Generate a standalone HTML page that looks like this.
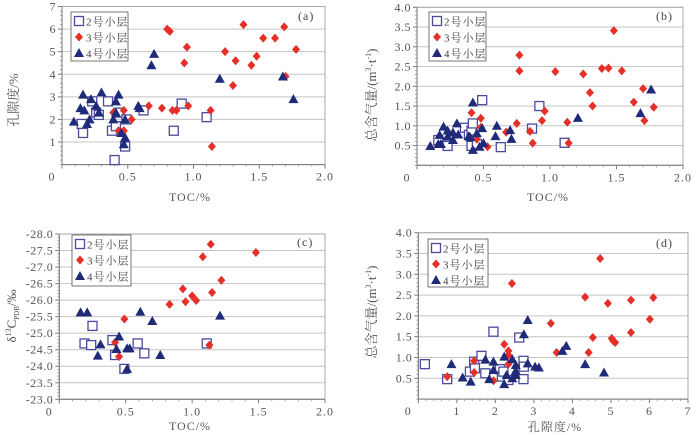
<!DOCTYPE html>
<html><head><meta charset="utf-8">
<style>
html,body{margin:0;padding:0;background:#fff;}
svg{display:block;font-family:"Liberation Serif","Noto Serif CJK SC",serif;}
</style></head>
<body>
<svg id="chart" width="700" height="435" viewBox="0 0 700 435" xmlns="http://www.w3.org/2000/svg"></svg>
<script>
// ---- Panel (a): TOC vs porosity ----
const aSq_x=[0.15,0.16,0.23,0.26,0.28,0.35,0.38,0.40,0.41,0.43,0.49,0.48,0.62,0.85,0.91,1.10];
const aSq_y=[1.8,1.4,2.8,2.3,2.2,2.8,1.5,0.2,1.7,2.3,2.0,0.8,2.4,1.5,2.7,2.1];
const aDi_x=[0.80,0.82,0.95,0.93,0.66,0.76,0.84,0.87,0.96,0.47,0.53,0.43,0.47,0.39,1.13,1.14,1.24,1.32,1.30,1.38,1.44,1.48,1.53,1.62,1.69,1.70,1.78];
const aDi_y=[6.0,5.9,5.2,4.5,2.6,2.5,2.4,2.4,2.6,2.4,2.0,1.5,1.5,2.3,2.4,0.8,5.0,4.6,3.5,6.2,4.4,4.8,5.6,5.6,6.1,3.9,5.1];
const aTr_x=[0.09,0.16,0.14,0.17,0.19,0.21,0.22,0.26,0.28,0.30,0.39,0.41,0.41,0.43,0.45,0.47,0.48,0.48,0.58,0.59,0.68,0.70,1.20,1.68,1.76];
const aTr_y=[1.9,3.1,2.5,2.4,1.8,2.0,2.9,2.6,2.3,3.2,2.0,2.8,2.3,3.1,1.4,0.9,1.2,2.0,2.6,2.5,4.4,4.9,3.8,3.9,2.9];
const aXTicks=[0,0.5,1.0,1.5,2.0];
const aXLabels=["0","0.5","1.0","1.5","2.0"];
const aYTicks=[1,2,3,4,5,6,7];
const aYLabels=["1","2","3","4","5","6","7"];
// ---- Panel (b): TOC vs gas content ----
const bSq_x=[0.16,0.23,0.36,0.39,0.41,0.41,0.42,0.45,0.49,0.63,0.865,0.92,1.11];
const bSq_y=[0.64,0.49,0.95,0.77,0.49,0.88,1.06,0.54,1.65,0.46,0.93,1.50,0.57];
const bDi_x=[0.41,0.48,0.48,0.45,0.53,0.67,0.75,0.77,0.77,0.85,0.87,0.94,0.96,1.04,1.13,1.14,1.25,1.30,1.32,1.39,1.44,1.48,1.54,1.63,1.70,1.71,1.78];
const bDi_y=[1.33,1.19,0.96,0.66,0.47,0.84,1.06,2.79,2.39,0.86,0.56,1.13,1.37,2.37,1.09,0.56,2.31,1.84,1.50,2.45,2.46,3.41,2.39,1.60,1.94,1.13,1.47];
const bTr_x=[0.10,0.16,0.18,0.17,0.20,0.23,0.23,0.27,0.27,0.30,0.31,0.39,0.40,0.42,0.42,0.45,0.47,0.49,0.50,0.59,0.60,0.70,0.71,1.21,1.68,1.76];
const bTr_y=[0.49,0.54,0.54,0.77,0.98,0.88,0.73,0.83,0.64,1.06,0.78,0.74,0.71,1.59,0.39,0.81,0.47,0.94,0.56,0.74,1.00,0.89,0.67,1.20,1.32,1.92];
const bXTicks=[0,0.5,1.0,1.5,2.0];
const bXLabels=["0","0.5","1.0","1.5","2.0"];
const bYTicks=[0.5,1.0,1.5,2.0,2.5,3.0,3.5,4.0];
const bYLabels=["0.5","1.0","1.5","2.0","2.5","3.0","3.5","4.0"];
// ---- Panel (c): TOC vs delta13C ----
const cSq_x=[0.19,0.24,0.25,0.40,0.42,0.49,0.59,0.64,1.11];
const cSq_y=[-24.69,-24.64,-25.22,-24.79,-24.34,-23.92,-24.69,-24.39,-24.69];
const cDi_x=[0.42,0.45,0.49,0.83,0.93,0.95,1.00,1.03,1.08,1.14,1.15,1.13,1.22,1.48];
const cDi_y=[-24.72,-24.29,-25.43,-25.87,-26.34,-25.95,-26.13,-25.99,-27.31,-27.69,-26.23,-24.64,-26.60,-27.44];
const cTr_x=[0.16,0.21,0.29,0.31,0.43,0.45,0.51,0.53,0.51,0.61,0.70,0.76,1.21];
const cTr_y=[-25.63,-25.63,-24.32,-24.66,-24.52,-24.90,-24.54,-24.54,-23.92,-25.65,-25.37,-24.34,-25.53];
const cXTicks=[0,0.5,1.0,1.5,2.0];
const cXLabels=["0","0.5","1.0","1.5","2.0"];
const cYTicks=[-28,-27.5,-27,-26.5,-26,-25.5,-25,-24.5,-24,-23.5,-23];
const cYLabels=["-28.0","-27.5","-27.0","-26.5","-26.0","-25.5","-25.0","-24.5","-24.0","-23.5","-23.0"];
// ---- Panel (d): porosity vs gas content ----
const dSq_x=[0.17,0.75,1.34,1.45,1.47,1.64,1.74,1.95,2.12,2.17,2.21,2.34,2.62,2.73,2.74,2.73];
const dSq_y=[0.84,0.48,0.66,0.90,0.74,1.04,0.62,1.62,0.72,0.54,0.66,0.46,1.48,0.92,0.78,0.48];
const dDi_x=[0.75,1.45,1.45,1.95,2.23,2.34,2.34,2.34,2.43,3.44,3.59,4.33,4.42,4.53,4.72,4.92,5.02,5.06,5.11,5.52,5.52,6.01,6.10];
const dDi_y=[0.54,0.92,0.64,0.44,1.32,1.16,1.06,0.84,2.78,1.82,1.12,2.45,1.12,1.48,3.38,2.30,1.46,1.40,1.36,2.38,1.60,1.92,2.44];
const dTr_x=[0.86,1.15,1.36,1.74,1.84,1.95,1.95,2.23,2.23,2.29,2.44,2.44,2.53,2.53,2.53,2.74,2.84,2.84,3.03,3.13,3.74,3.84,4.33,4.82];
const dTr_y=[0.84,0.52,0.42,0.95,0.48,0.90,0.70,0.36,1.02,0.58,0.96,0.50,0.82,0.68,0.58,1.56,1.90,0.86,0.78,0.76,1.16,1.28,0.84,0.64];
const dXTicks=[0,1,2,3,4,5,6,7];
const dXLabels=["0","1","2","3","4","5","6","7"];
const dYTicks=[0.5,1.0,1.5,2.0,2.5,3.0,3.5,4.0];
const dYLabels=["0.5","1.0","1.5","2.0","2.5","3.0","3.5","4.0"];
const legendNames=["2号小层","3号小层","4号小层"];

const NS="http://www.w3.org/2000/svg";
const svg=document.getElementById('chart');
function mk(tag,attrs,parent){const e=document.createElementNS(NS,tag);for(const k in attrs)e.setAttribute(k,attrs[k]);(parent||svg).appendChild(e);return e;}
const SQ="#4b4b9e",DI="#e52f28",TR="#1f2a78",GRID="#c4c4c4",TXT="#555";

function marker(g,type,cx,cy,name){
  let e;
  if(type==='sq'){e=mk('rect',{x:cx-4.5,y:cy-4.5,width:9,height:9,fill:'#fff',stroke:SQ,'stroke-width':1.3},g);}
  else if(type==='di'){e=mk('polygon',{points:`${cx},${cy-4.5} ${cx+4},${cy} ${cx},${cy+4.5} ${cx-4},${cy}`,fill:DI},g);}
  else {e=mk('polygon',{points:`${cx},${cy-5} ${cx+5},${cy+4} ${cx-5},${cy+4}`,fill:TR},g);}
  
  
  return e;
}

function panel(p){
  const g=mk('g',{});
  
  
  const sx=v=>p.x0+(v-p.xmin)/(p.xmax-p.xmin)*(p.x1-p.x0);
  const sy=v=>p.y0+(v-p.ymin)/(p.ymax-p.ymin)*(p.y1-p.y0);
  const L=p.x0,R=p.x1,T=Math.min(p.y0,p.y1),B=Math.max(p.y0,p.y1);
  p.yt.forEach((t,i)=>{const y=sy(t);
    const gl=mk('line',{x1:L,x2:R,y1:y,y2:y,stroke:GRID,'stroke-width':1},g);
    
    
    const tl=mk('text',{x:L-6,y:y+4,'text-anchor':'end','font-size':12,'letter-spacing':0.5,fill:TXT},g);tl.textContent=p.yl[i];
    
    
    mk('line',{x1:L-4,x2:L,y1:y,y2:y,stroke:'#777'},g);
  });
  const ystep=(p.yt[1]-p.yt[0])/5;
  for(let v=Math.min(p.ymin,p.ymax);v<=Math.max(p.ymin,p.ymax)+1e-9;v+=Math.abs(ystep)){const y=sy(v);mk('line',{x1:L-2,x2:L,y1:y,y2:y,stroke:'#888','stroke-width':0.7},g);}
  p.xt.forEach((t,i)=>{const x=sx(t);
    const tl=mk('text',{x:i===0?x-10:x,y:B+16,'text-anchor':'middle','font-size':12,'letter-spacing':1,fill:TXT},g);tl.textContent=p.xl[i];
    
    
    mk('line',{x1:x,x2:x,y1:B,y2:B+4,stroke:'#777'},g);
  });
  const xstep=(p.xt[1]-p.xt[0])/5;
  for(let v=p.xmin;v<=p.xmax+1e-9;v+=xstep){const x=sx(v);mk('line',{x1:x,x2:x,y1:B,y2:B+2,stroke:'#888','stroke-width':0.7},g);}
  const fr=mk('rect',{x:L,y:T,width:R-L,height:B-T,fill:'none',stroke:'#aaa','stroke-width':1},g);
  
  
  mk('line',{x1:L,x2:L,y1:T,y2:B,stroke:'#777','stroke-width':1},g);
  mk('line',{x1:L,x2:R,y1:B,y2:B,stroke:'#777','stroke-width':1},g);
  p.sqx.forEach((v,i)=>marker(g,'sq',sx(v),sy(p.sqy[i]),'point-layer2'));
  p.dix.forEach((v,i)=>marker(g,'di',sx(v),sy(p.diy[i]),'point-layer3'));
  p.trx.forEach((v,i)=>marker(g,'tr',sx(v),sy(p.try_[i]),'point-layer4'));
  const lg=mk('g',{},g);
  
  
  mk('rect',{x:p.lx,y:p.ly,width:p.lw,height:p.lh,fill:'#fff',stroke:'#555','stroke-width':0.8},lg);
  ['sq','di','tr'].forEach((t,i)=>{
    const cy=p.ly+9+i*16;
    marker(lg,t,p.lx+8,cy,'legend-marker');
    const tx=mk('text',{x:p.lx+15,y:cy+4.5,'font-size':11,'letter-spacing':1,fill:'#444'},lg);tx.textContent=legendNames[i];
    
    
  });
  const pl=mk('text',{x:p.tagx,y:p.tagy,'font-size':12,'letter-spacing':1,fill:'#444'},g);pl.textContent=p.tag;
  
  
  const xt=mk('text',{x:p.xtx,y:p.xty,'text-anchor':'middle','font-size':12,'letter-spacing':1,fill:TXT},g);xt.textContent=p.xtitle;
  
  
  const yt=mk('text',{x:0,y:0,'text-anchor':'middle','font-size':13,fill:TXT,transform:`translate(${p.ytx},${p.yty}) rotate(-90)`},g);
  yt.innerHTML=p.ytitle;
  
  
}

panel({id:'a',x0:62,x1:325,xmin:0,xmax:2,y0:164.6,y1:6.5,ymin:0,ymax:7,xt:aXTicks,xl:aXLabels,yt:aYTicks,yl:aYLabels,
  sqx:aSq_x,sqy:aSq_y,dix:aDi_x,diy:aDi_y,trx:aTr_x,try_:aTr_y,lx:71,ly:12,lw:57,lh:49,tag:'(a)',tagx:298,tagy:20,
  xtitle:'TOC/%',xtx:190,xty:201,ytitle:'孔隙度/%',ytx:18,yty:100});
panel({id:'b',x0:417,x1:683,xmin:0,xmax:2,y0:165.3,y1:7.3,ymin:0,ymax:4,xt:bXTicks,xl:bXLabels,yt:bYTicks,yl:bYLabels,
  sqx:bSq_x,sqy:bSq_y,dix:bDi_x,diy:bDi_y,trx:bTr_x,try_:bTr_y,lx:429,ly:12,lw:57,lh:49,tag:'(b)',tagx:656,tagy:20,
  xtitle:'TOC/%',xty:201,xtx:548,ytitle:'总含气量/(m<tspan font-size="8" dy="-5">3</tspan><tspan dy="5">·t</tspan><tspan font-size="8" dy="-5">-1</tspan><tspan dy="5">)</tspan>',ytx:376,yty:95});
panel({id:'c',x0:59.3,x1:325,xmin:0,xmax:2,y0:234,y1:399.3,ymin:-28,ymax:-23,xt:cXTicks,xl:cXLabels,yt:cYTicks,yl:cYLabels,
  sqx:cSq_x,sqy:cSq_y,dix:cDi_x,diy:cDi_y,trx:cTr_x,try_:cTr_y,lx:72,ly:235,lw:59,lh:51,tag:'(c)',tagx:297,tagy:246,
  xtitle:'TOC/%',xtx:190,xty:430,ytitle:'δ<tspan font-size="8" dy="-5">13</tspan><tspan dy="5">C</tspan><tspan font-size="7" dy="3">PDB</tspan><tspan dy="-3">/‰</tspan>',ytx:16,yty:316});
panel({id:'d',x0:418.3,x1:688,xmin:0,xmax:7,y0:399.1,y1:232.7,ymin:0,ymax:4,xt:dXTicks,xl:dXLabels,yt:dYTicks,yl:dYLabels,
  sqx:dSq_x,sqy:dSq_y,dix:dDi_x,diy:dDi_y,trx:dTr_x,try_:dTr_y,lx:428,ly:239,lw:60,lh:48,tag:'(d)',tagx:656,tagy:247,
  xtitle:'孔隙度/%',xtx:555,xty:431,ytitle:'总含气量/(m<tspan font-size="8" dy="-5">3</tspan><tspan dy="5">·t</tspan><tspan font-size="8" dy="-5">-1</tspan><tspan dy="5">)</tspan>',ytx:376,yty:312});
</script>
</body></html>
